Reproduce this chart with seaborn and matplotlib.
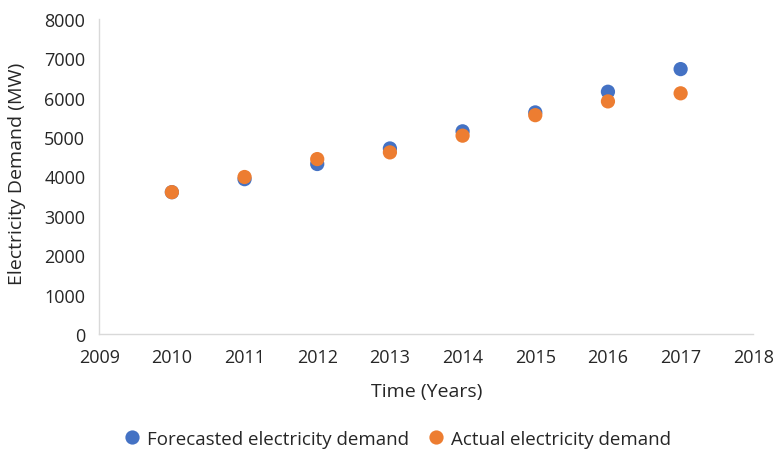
import pandas as pd
import matplotlib
import matplotlib.pyplot as plt
import seaborn as sns
matplotlib.use('Agg')

years = [2010, 2011, 2012, 2013, 2014, 2015, 2016, 2017]
forecast = [3600, 3930, 4315, 4710, 5145, 5625, 6150, 6725]
actual = [3600, 3985, 4440, 4610, 5035, 5555, 5905, 6110]
series_names = ["Forecasted electricity demand", "Actual electricity demand"]
colors = {series_names[0]: "#4472C4", series_names[1]: "#ED7D31"}

df = pd.concat([
	pd.DataFrame({"year": years, "demand": forecast, "series": series_names[0]}),
	pd.DataFrame({"year": years, "demand": actual, "series": series_names[1]}),
])

sns.set_style("white")
plt.rcParams['font.family'] = ['Open Sans', 'DejaVu Sans']
text_color = "#262626"

fig = plt.figure(figsize = (7.75, 4.52), dpi = 100)
ax = fig.add_axes([0.128, 0.259, 0.844, 0.697])
sns.scatterplot(data = df, x = "year", y = "demand", hue = "series", palette = colors,
	s = 105, edgecolor = "none", ax = ax, legend = True)

ax.set_xlim(2009, 2018)
ax.set_ylim(0, 8000)
ax.set_xticks(range(2009, 2019))
ax.set_yticks(range(0, 8001, 1000))
ax.tick_params(axis = 'both', labelsize = 13, length = 0, colors = text_color)
ax.tick_params(axis = 'x', pad = 10)
ax.tick_params(axis = 'y', pad = 10)

ax.set_xlabel("Time (Years)", fontsize = 14, color = text_color)
ax.set_ylabel("Electricity Demand (MW)", fontsize = 14, color = text_color)
ax.xaxis.set_label_coords(0.5, -0.181)
ax.xaxis.label.set_va("center")
ax.yaxis.set_label_coords(-0.125, 0.51)
ax.yaxis.label.set_va("center")

for side in ["top", "right"]:
	ax.spines[side].set_visible(False)
for side in ["left", "bottom"]:
	ax.spines[side].set_color("#d9d9d9")
	ax.spines[side].set_linewidth(1)

handles, labels = ax.get_legend_handles_labels()
ax.get_legend().remove()
fig.legend(handles, labels, loc = "center", bbox_to_anchor = (0.506, 0.027), ncol = 2,
	frameon = False, fontsize = 13.5, handletextpad = -0.2, columnspacing = 0.4,
	markerscale = 1.0, labelcolor = text_color)

fig.savefig("out.png", dpi = 100)
